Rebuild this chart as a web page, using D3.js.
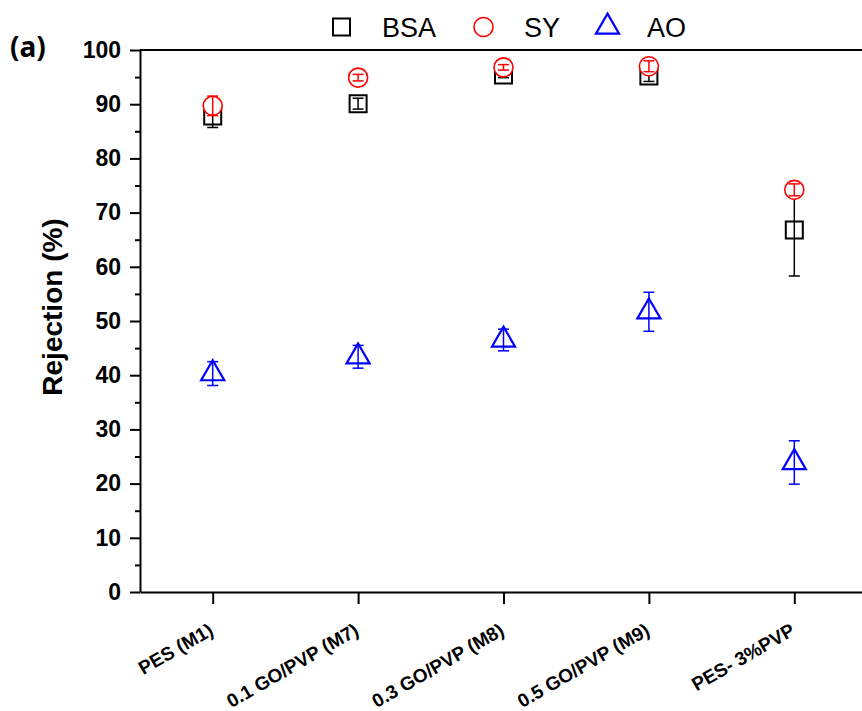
<!DOCTYPE html>
<html>
<head>
<meta charset="utf-8">
<script src="https://cdn.jsdelivr.net/npm/d3@7"></script>
<style>
  html, body { margin: 0; padding: 0; background: #fff; }
  svg { display: block; }
</style>
</head>
<body>
<script>
// Rejection of BSA, SY and AO by the membranes, with error bars
const categories = ["PES (M1)", "0.1 GO/PVP (M7)", "0.3 GO/PVP (M8)", "0.5 GO/PVP (M9)", "PES- 3%PVP"];
const bsa    = [87.8, 90.1, 95.4, 95.2, 66.8];
const bsaErr = [2.1, 1.0, 0.5, 1.0, 8.5];
const sy     = [89.7, 94.9, 96.8, 97.0, 74.2];
const syErr  = [1.8, 0.6, 0.5, 1.0, 1.1];
const ao     = [40.3, 43.4, 46.5, 51.7, 23.9];
const aoErr  = [2.2, 2.1, 2.0, 3.6, 4.0];
const yTicks = [0, 10, 20, 30, 40, 50, 60, 70, 80, 90, 100];
const yMinorTicks = [5, 15, 25, 35, 45, 55, 65, 75, 85, 95];

const W = 862, H = 711;
const svg = d3.select("body").append("svg").attr("width", W).attr("height", H);

const x = d3.scaleLinear().domain([-0.5, 4.5]).range([140, 867]);
const y = d3.scaleLinear().domain([0, 100]).range([592, 50]);

const series = [
  { name: "BSA", values: bsa, errs: bsaErr, color: "#000000", symbol: d3.symbolSquare,   size: 289, sw: 2.0 },
  { name: "SY",  values: sy,  errs: syErr,  color: "#ff0000", symbol: d3.symbolCircle,   size: 284, sw: 1.6 },
  { name: "AO",  values: ao,  errs: aoErr,  color: "#0000ff", symbol: d3.symbolTriangle, size: 231, sw: 2.2 }
];

// frame: top border
svg.append("line")
  .attr("x1", x(-0.5)).attr("x2", W).attr("y1", y(100)).attr("y2", y(100))
  .attr("stroke", "#000").attr("stroke-width", 2);

// y axis with major and minor ticks
const yAxis = svg.append("g").attr("transform", `translate(${x(-0.5)},0)`)
  .call(d3.axisLeft(y).tickValues(yTicks).tickSize(10).tickSizeOuter(0).tickPadding(9));
yAxis.select(".domain").attr("stroke-width", 2);
yAxis.selectAll(".tick line").attr("stroke-width", 2);
yAxis.selectAll(".tick text")
  .attr("font-family", "'Liberation Sans', Arial, sans-serif")
  .attr("font-weight", "bold").attr("font-size", 23).attr("fill", "#000");
svg.append("g").attr("transform", `translate(${x(-0.5)},0)`)
  .call(d3.axisLeft(y).tickValues(yMinorTicks).tickSize(5).tickSizeOuter(0).tickFormat(""))
  .call(g => g.select(".domain").remove())
  .selectAll(".tick line").attr("stroke-width", 2);

// x axis
const xAxis = svg.append("g").attr("transform", `translate(0,${y(0)})`)
  .call(d3.axisBottom(x).tickValues(d3.range(categories.length)).tickSize(12).tickSizeOuter(0).tickFormat(""));
xAxis.select(".domain").attr("stroke-width", 2);
xAxis.selectAll(".tick line").attr("stroke-width", 2);

// rotated category labels
svg.append("g").selectAll("text").data(categories).join("text")
  .attr("transform", (d, i) => `translate(${x(i) + 2},634) rotate(-30)`)
  .attr("text-anchor", "end")
  .attr("font-family", "'Liberation Sans', Arial, sans-serif")
  .attr("font-weight", "bold").attr("font-size", 19)
  .text(d => d);

// y title
svg.append("text")
  .attr("transform", "translate(62,307) rotate(-90)")
  .attr("text-anchor", "middle")
  .attr("font-family", "'Liberation Sans', Arial, sans-serif")
  .attr("font-weight", "bold").attr("font-size", 28)
  .text("Rejection (%)");

// panel label
svg.append("text")
  .attr("x", 10).attr("y", 57)
  .attr("font-family", "'Noto Sans', 'Open Sans', sans-serif")
  .attr("font-weight", "bold").attr("font-size", 28)
  .text("(a)");

// markers and error bars
const capW = 11;
series.forEach(s => {
  const g = svg.append("g");
  g.selectAll("path.m").data(s.values).join("path")
    .attr("class", "m")
    .attr("transform", (d, i) => `translate(${x(i)},${y(d)})`)
    .attr("d", d3.symbol().type(s.symbol).size(s.size)())
    .attr("fill", "#fff").attr("stroke", s.color).attr("stroke-width", s.sw);
  const eb = g.selectAll("g.eb").data(s.values).join("g").attr("class", "eb")
    .attr("stroke", s.color).attr("stroke-width", 1.5);
  eb.append("line")
    .attr("x1", (d, i) => x(i)).attr("x2", (d, i) => x(i))
    .attr("y1", (d, i) => y(d - s.errs[i])).attr("y2", (d, i) => y(d + s.errs[i]));
  eb.append("line")
    .attr("x1", (d, i) => x(i) - capW / 2).attr("x2", (d, i) => x(i) + capW / 2)
    .attr("y1", (d, i) => y(d + s.errs[i])).attr("y2", (d, i) => y(d + s.errs[i]));
  eb.append("line")
    .attr("x1", (d, i) => x(i) - capW / 2).attr("x2", (d, i) => x(i) + capW / 2)
    .attr("y1", (d, i) => y(d - s.errs[i])).attr("y2", (d, i) => y(d - s.errs[i]));
});

// legend
const legendX = [341.5, 483.5, 607.5];
const legendTextX = [382, 524, 647];
const legend = svg.append("g");
series.forEach((s, k) => {
  legend.append("path")
    .attr("transform", `translate(${legendX[k]},27)`)
    .attr("d", d3.symbol().type(s.symbol).size(s.size)())
    .attr("fill", "#fff").attr("stroke", s.color).attr("stroke-width", s.sw);
  legend.append("text")
    .attr("x", legendTextX[k]).attr("y", 37)
    .attr("font-family", "'Liberation Sans', Arial, sans-serif")
    .attr("font-size", 27)
    .text(s.name);
});
</script>
</body>
</html>
